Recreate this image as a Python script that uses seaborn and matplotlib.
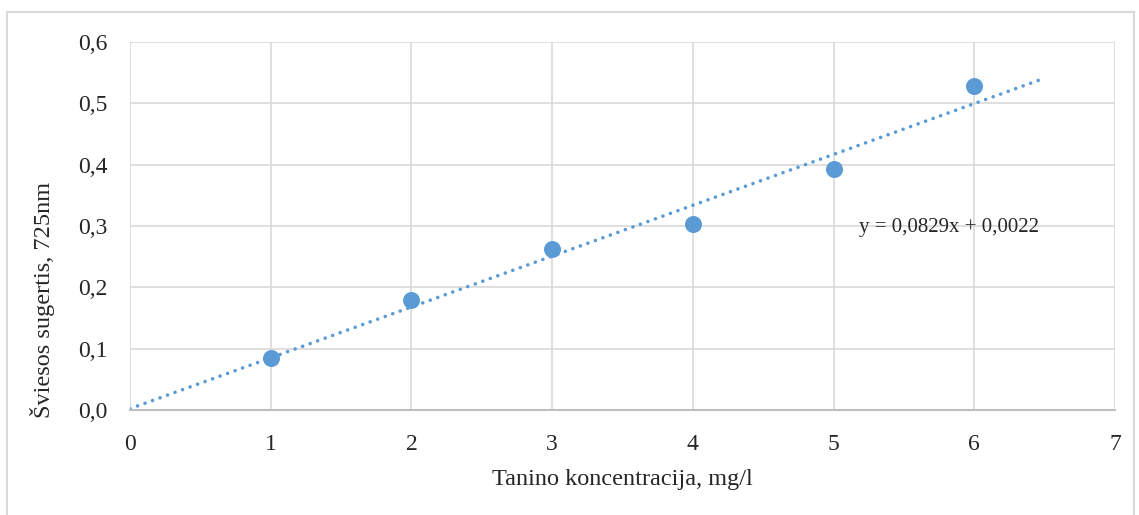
import numpy as np
import pandas as pd
import seaborn as sns
import matplotlib.pyplot as plt
from matplotlib.patches import Rectangle

conc = [1, 2, 3, 4, 5, 6]
absorb = [0.085, 0.179, 0.263, 0.303, 0.393, 0.528]
slope = 0.0829
intercept = 0.0022
trend_x = [0, 6.5]
x_ticks = [0, 1, 2, 3, 4, 5, 6, 7]
y_ticks = [0.0, 0.1, 0.2, 0.3, 0.4, 0.5, 0.6]

df = pd.DataFrame({"x": conc, "y": absorb})
trend = pd.DataFrame({"x": trend_x, "y": [slope * v + intercept for v in trend_x]})

sns.set_style("white")
plt.rcParams['font.family'] = ['Liberation Serif', 'DejaVu Serif']

fig = plt.figure(figsize=(11.39, 5.15), dpi=100)
ax = fig.add_axes([130 / 1139, 1 - 410 / 515, 985 / 1139, 368 / 515])

blue = "#5b9bd5"
sns.lineplot(data=trend, x="x", y="y", ax=ax, color=blue, linestyle=(0, (0.01, 2.2)),
             linewidth=2.6, dash_capstyle="round", zorder=2)
sns.scatterplot(data=df, x="x", y="y", ax=ax, color=blue, s=150, edgecolor=blue,
                linewidth=0, zorder=3)

ax.set_xlim(0, 7)
ax.set_ylim(0, 0.6)
ax.set_xticks(x_ticks)
ax.set_xticklabels([str(v) for v in x_ticks])
ax.set_yticks(y_ticks)
ax.set_yticklabels([f"{v:.1f}".replace(".", ",") for v in y_ticks])
ax.grid(True, color="#d9d9d9", linewidth=1.2)
ax.set_axisbelow(True)
for side in ["top", "right", "left"]:
    ax.spines[side].set_visible(False)
ax.spines["bottom"].set_color("#bfbfbf")
ax.spines["bottom"].set_linewidth(1.5)
ax.tick_params(axis="x", length=0, labelsize=17, pad=17)
ax.tick_params(axis="y", length=0, labelsize=17, pad=16)
ax.set_xlabel("Tanino koncentracija, mg/l", fontsize=17.5, labelpad=10)
ax.set_ylabel("Šviesos sugertis, 725nm", fontsize=17.5)
ax.yaxis.set_label_coords(-0.076, 0.30)

ax.text(5.18, 0.297, "y = 0,0829x + 0,0022", fontsize=15, va="center", ha="left")

fig.patches.append(Rectangle((7 / 1139, -0.1), 1127 / 1139, 1 - 12 / 515 + 0.1,
                             transform=fig.transFigure, fill=False,
                             edgecolor="#d9d9d9", linewidth=1.5))

fig.savefig("out.png", dpi=100)
